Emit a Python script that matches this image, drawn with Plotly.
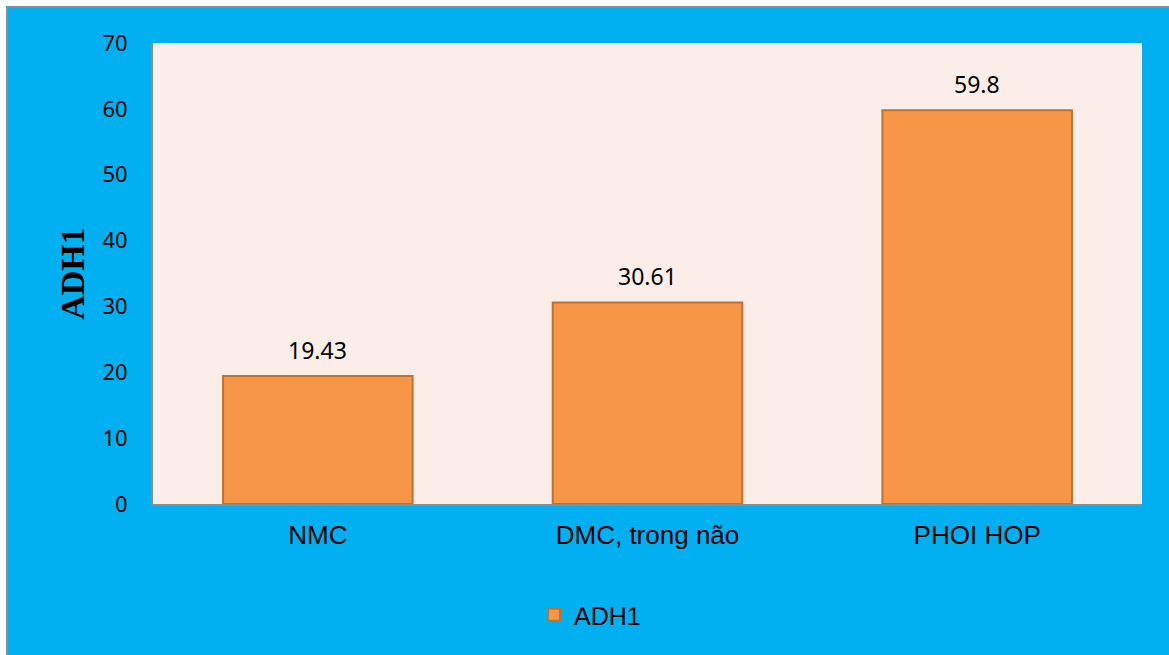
import plotly.graph_objects as go

# Chart data
categories = ["NMC", "DMC, trong não", "PHOI HOP"]
adh1_values = [19.43, 30.61, 59.8]
value_labels = ["19.43", "30.61", "59.8"]
y_ticks = [0, 10, 20, 30, 40, 50, 60, 70]

W, H = 1169, 655
L, R, T, B = 153, 27, 43, 151
PW, PH = W - L - R, H - T - B


def px_x(p):
    return (p - L) / PW


def px_y(p):
    return (H - B - p) / PH


fig = go.Figure()
fig.add_trace(go.Bar(
    x=categories,
    y=adh1_values,
    name="ADH1",
    marker=dict(color="#F79646", line=dict(color="#C0702F", width=2)),
    width=0.575,
))

for cat, val, lab in zip(categories, adh1_values, value_labels):
    fig.add_annotation(
        x=cat, y=val, text=lab, showarrow=False,
        yanchor="bottom", yshift=8,
        font=dict(family="Noto Sans", size=23, color="#000000"),
    )

# Outer frame: white strip on top/left with a thin gray edge
fig.add_shape(type="rect", xref="paper", yref="paper",
              x0=px_x(0), x1=px_x(W + 5), y0=px_y(-5), y1=px_y(6),
              fillcolor="white", line=dict(width=0), layer="above")
fig.add_shape(type="rect", xref="paper", yref="paper",
              x0=px_x(-5), x1=px_x(6), y0=px_y(H + 5), y1=px_y(-5),
              fillcolor="white", line=dict(width=0), layer="above")
fig.add_shape(type="line", xref="paper", yref="paper",
              x0=px_x(7), x1=px_x(W + 5), y0=px_y(7), y1=px_y(7),
              line=dict(color="#8C8C8C", width=2), layer="above")
fig.add_shape(type="line", xref="paper", yref="paper",
              x0=px_x(7), x1=px_x(7), y0=px_y(7), y1=px_y(H + 5),
              line=dict(color="#8C8C8C", width=2), layer="above")

fig.update_layout(
    width=W, height=H,
    margin=dict(l=L, r=R, t=T, b=B, pad=0),
    paper_bgcolor="#00B0F0",
    plot_bgcolor="#FBEDE8",
    showlegend=True,
    legend=dict(
        orientation="h", x=px_x(590), xanchor="center",
        y=px_y(615), yanchor="middle",
        font=dict(family="Liberation Sans", size=25, color="#000000"),
        bgcolor="rgba(0,0,0,0)", itemwidth=30,
    ),
    bargap=0.425,
    font=dict(family="Liberation Sans", color="#000000"),
)

fig.update_xaxes(
    showline=True, linecolor="#8C8C8C", linewidth=2,
    showgrid=False, ticks="",
    tickfont=dict(family="Liberation Sans", size=26, color="#000000"),
    ticklabelstandoff=7,
)
fig.update_yaxes(
    range=[0, 70], tickvals=y_ticks,
    showline=True, linecolor="#8C8C8C", linewidth=2,
    showgrid=False, zeroline=False, ticks="",
    tickfont=dict(family="Noto Sans", size=22, color="#000000"),
    ticklabelstandoff=19,
    title=dict(text="ADH1", standoff=8,
               font=dict(family="Liberation Serif", size=34, color="#000000",
                         weight="bold")),
)

fig.write_html("out.html")
